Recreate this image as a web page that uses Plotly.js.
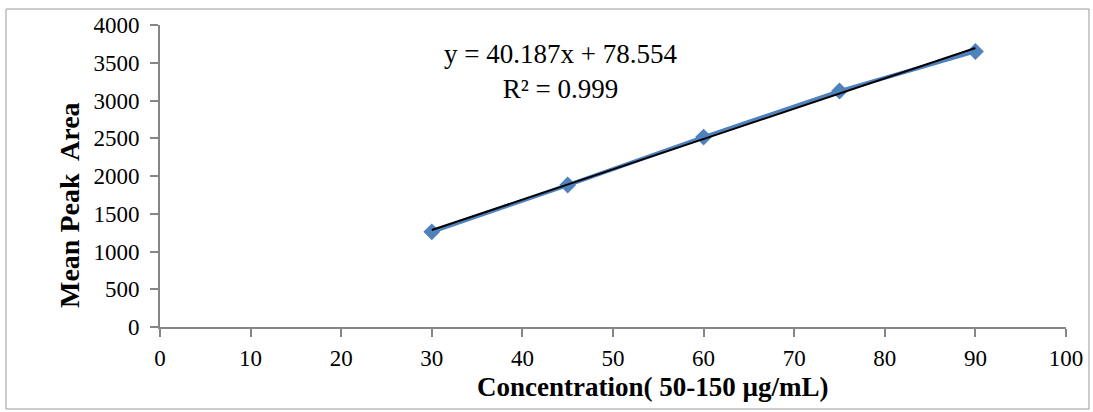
<!DOCTYPE html>
<html>
<head>
<meta charset="utf-8">
<script src="https://cdn.plot.ly/plotly-3.0.1.min.js"></script>
<style>
  html, body { margin: 0; padding: 0; background: #fff; }
  #chart { width: 1093px; height: 412px; }
</style>
</head>
<body>
<div id="chart"></div>
<script>
const concentration = [30, 45, 60, 75, 90];
const meanPeakArea = [1260, 1880, 2515, 3125, 3650];
const slope = 40.187;
const intercept = 78.554;
const trendX = [30, 90];
const trendY = trendX.map(x => slope * x + intercept);
const xTicks = [0, 10, 20, 30, 40, 50, 60, 70, 80, 90, 100];
const yTicks = [0, 500, 1000, 1500, 2000, 2500, 3000, 3500, 4000];

const serif = "'Liberation Serif', 'Times New Roman', serif";

const data = [
  {
    x: concentration, y: meanPeakArea, type: 'scatter', mode: 'lines+markers',
    line: { color: '#4F81BD', width: 4 },
    marker: { symbol: 'diamond', size: 13, color: '#4F81BD' },
    showlegend: false, hoverinfo: 'x+y'
  },
  {
    x: trendX, y: trendY, type: 'scatter', mode: 'lines',
    line: { color: '#000000', width: 2 },
    showlegend: false, hoverinfo: 'skip'
  }
];

const axisCommon = {
  showgrid: false, zeroline: false, showline: true,
  linecolor: '#868686', linewidth: 2,
  ticks: 'outside', ticklen: 8, tickwidth: 2, tickcolor: '#868686',
  tickfont: { family: serif, size: 23, color: '#000' }
};

const layout = {
  width: 1093, height: 412,
  margin: { l: 160, r: 27, t: 25, b: 85 },
  paper_bgcolor: '#ffffff', plot_bgcolor: '#ffffff',
  xaxis: Object.assign({}, axisCommon, {
    range: [0, 100], tickvals: xTicks, ticktext: xTicks.map(String), ticklabelstandoff: 1
  }),
  yaxis: Object.assign({}, axisCommon, {
    range: [0, 4000], tickvals: yTicks, ticktext: yTicks.map(String), ticklabelstandoff: 6
  }),
  annotations: [
    {
      text: 'y = 40.187x + 78.554<br>R² = 0.999', xref: 'x', yref: 'y',
      x: 44.2, y: 3380, xanchor: 'center', yanchor: 'middle',
      showarrow: false, align: 'center',
      font: { family: serif, size: 27, color: '#000' }
    },
    {
      text: '<b>Concentration( 50-150 µg/mL)</b>', xref: 'paper', yref: 'paper',
      x: (653 - 160) / 906, y: (327 - 387) / 302, xanchor: 'center', yanchor: 'middle',
      showarrow: false,
      font: { family: serif, size: 27, color: '#000' }
    },
    {
      text: '<b>Mean Peak  Area</b>', xref: 'paper', yref: 'paper',
      x: (70 - 160) / 906, y: (327 - 205) / 302, xanchor: 'center', yanchor: 'middle',
      showarrow: false, textangle: -90,
      font: { family: serif, size: 28, color: '#000' }
    }
  ],
  shapes: [
    {
      type: 'rect', xref: 'paper', yref: 'paper',
      x0: (6 - 160) / 906, x1: (1089 - 160) / 906,
      y0: (327 - 409) / 302, y1: (327 - 9) / 302,
      line: { color: '#9a9a9a', width: 1 }, fillcolor: 'rgba(0,0,0,0)'
    }
  ]
};

Plotly.newPlot('chart', data, layout, { displayModeBar: false, staticPlot: true });
</script>
</body>
</html>
